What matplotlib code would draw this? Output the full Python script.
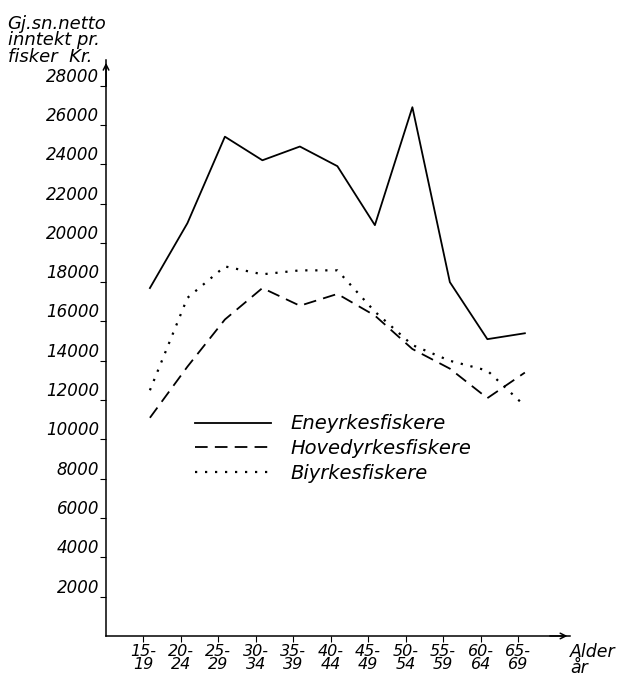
import matplotlib
matplotlib.use("Agg")
import matplotlib.pyplot as plt

categories = ["15-\n19", "20-\n24", "25-\n29", "30-\n34", "35-\n39", "40-\n44",
              "45-\n49", "50-\n54", "55-\n59", "60-\n64", "65-\n69"]
eneyrke = [17700, 21000, 25400, 24200, 24900, 23900, 20900, 26900, 18000, 15100, 15400]
hovedyrke = [11100, 13700, 16100, 17700, 16800, 17400, 16300, 14600, 13600, 12100, 13400]
biyrke = [12500, 17200, 18800, 18400, 18600, 18600, 16500, 14800, 14000, 13500, 11700]
yticks = list(range(2000, 28001, 2000))
series_names = ["Eneyrkesfiskere", "Hovedyrkesfiskere", "Biyrkesfiskere"]

plt.rcParams['font.family'] = ['DejaVu Sans']
plt.rcParams['font.style'] = 'oblique'

fig = plt.figure(figsize=(6.35, 6.76), dpi=100)
ax = fig.add_axes([0.167, 0.0592, 0.731, 0.852])

xs = [i + 0.18 for i in range(len(categories))]
ax.plot(xs, eneyrke, color='black', lw=1.3, ls='-', label=series_names[0])
ax.plot(xs, hovedyrke, color='black', lw=1.3, ls=(0, (7, 4)), label=series_names[1])
ax.plot(xs, biyrke, color='black', lw=1.6, ls=(0, (1, 3.5)), label=series_names[2])

ax.set_xlim(-0.99, 11.39)
ax.set_ylim(0, 29300)

for s in ['top', 'right']:
    ax.spines[s].set_visible(False)
for s in ['left', 'bottom']:
    ax.spines[s].set_linewidth(1.1)

ax.set_xticks(range(len(categories)))
ax.set_xticklabels(categories, fontsize=11.5, style='oblique', linespacing=0.85)
ax.set_yticks(yticks)
ax.set_yticklabels([str(v) for v in yticks], fontsize=12, style='oblique', va='bottom')
ax.tick_params(axis='y', direction='out', length=4, pad=1)
ax.tick_params(axis='x', direction='out', length=4, pad=1.5)

# arrows on axes
ax.annotate('', xy=(0, 1.0), xycoords='axes fraction', xytext=(0, 0.95),
            arrowprops=dict(arrowstyle='->', lw=1.1, color='black'))
ax.annotate('', xy=(1.0, 0), xycoords='axes fraction', xytext=(0.95, 0),
            arrowprops=dict(arrowstyle='->', lw=1.1, color='black'))

fig.text(0.012, 0.978, "Gj.sn.netto\ninntekt pr.\nfisker  Kr.", fontsize=13,
         style='oblique', va='top', ha='left', linespacing=0.9)
fig.text(0.898, 0.049, "Alder\når", fontsize=12.5, style='oblique',
         va='top', ha='left', linespacing=0.85)

ax.legend(loc='upper left', bbox_to_anchor=(0.155, 0.415), frameon=False,
          handlelength=3.9, handletextpad=1.0, labelspacing=0.3,
          prop={'size': 14, 'style': 'oblique'})

fig.savefig("out.png", dpi=100)
